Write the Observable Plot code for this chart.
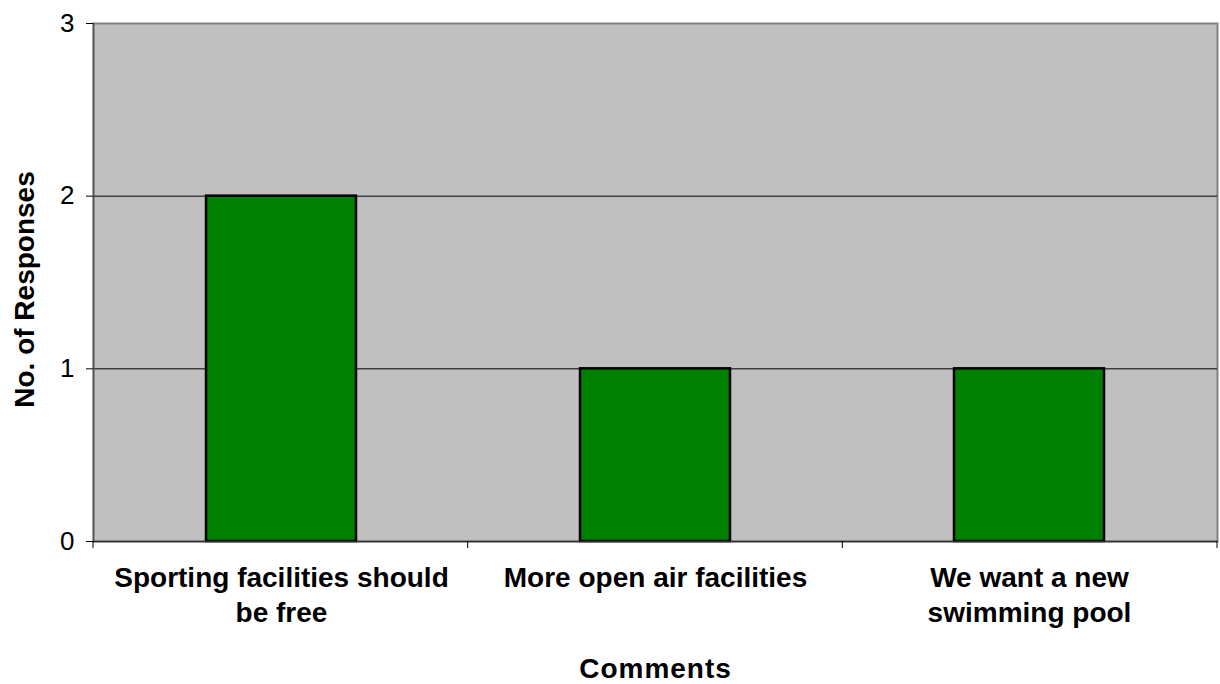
<!DOCTYPE html>
<html>
<head>
<meta charset="utf-8">
<script src="https://cdn.jsdelivr.net/npm/d3@7"></script>
<script src="https://cdn.jsdelivr.net/npm/@observablehq/plot@0.6"></script>
<style>
  html, body { margin: 0; padding: 0; background: #fff; }
  #chart { width: 1220px; height: 684px; }
</style>
</head>
<body>
<div id="chart"></div>
<script>
const categories = [
  "Sporting facilities should be free",
  "More open air facilities",
  "We want a new swimming pool"
];
const tickLabels = [
  "Sporting facilities should\nbe free",
  "More open air facilities",
  "We want a new\nswimming pool"
];
const responses = [2, 1, 1];
const yTicks = [0, 1, 2, 3];
const gridValues = [1, 2];
const xTitle = "Comments";
const yTitle = "No. of Responses";

const data = categories.map((c, i) => ({category: c, value: responses[i]}));
const labelOf = new Map(categories.map((c, i) => [c, tickLabels[i]]));

function boundaryTicks(index, scales, values, dimensions) {
  const {width, height, marginLeft, marginRight, marginBottom} = dimensions;
  const n = categories.length;
  const step = (width - marginLeft - marginRight) / n;
  const y0 = height - marginBottom;
  const g = d3.create("svg:g").attr("stroke", "#000").attr("stroke-width", 1);
  for (let i = 0; i <= n; i++) {
    const x = marginLeft + i * step;
    g.append("line").attr("x1", x).attr("x2", x).attr("y1", y0).attr("y2", y0 + 7);
  }
  return g.node();
}

const chart = Plot.plot({
  width: 1220,
  height: 684,
  marginTop: 23,
  marginBottom: 143,
  marginLeft: 93,
  marginRight: 3,
  style: {fontFamily: "'Liberation Sans', Arial, sans-serif", background: "#fff", color: "#000"},
  x: {domain: categories, paddingInner: 0.6, paddingOuter: 0.3, axis: null},
  y: {domain: [0, 3], axis: null},
  marks: [
    Plot.frame({fill: "#C0C0C0", stroke: "#808080", strokeWidth: 2}),
    Plot.ruleY(gridValues, {stroke: "#000", strokeWidth: 1}),
    Plot.frame({anchor: "left", stroke: "#505050", strokeWidth: 1.5}),
    Plot.barY(data, {x: "category", y: "value", fill: "#008000", stroke: "#000", strokeWidth: 2.5}),
    Plot.ruleY([0], {stroke: "#303030", strokeWidth: 1.5}),
    Plot.axisY({ticks: yTicks, tickSize: 7, tickPadding: 12, fontSize: 26, tickFormat: d => String(d), stroke: "#000", label: null}),
    boundaryTicks,
    Plot.axisX({
      tickSize: 0,
      tickPadding: 21,
      fontSize: 28,
      fontWeight: "bold",
      lineHeight: 1.25,
      tickFormat: d => labelOf.get(d),
      label: null
    }),
    Plot.text([xTitle], {frameAnchor: "bottom", lineAnchor: "bottom", dy: 136, fontSize: 28, fontWeight: "bold", className: "spaced"}),
    Plot.text([yTitle], {frameAnchor: "left", textAnchor: "middle", rotate: -90, dx: -68, dy: 7, fontSize: 28, fontWeight: "bold"})
  ]
});

d3.select(chart).selectAll(".spaced text").style("letter-spacing", "1px");
document.getElementById("chart").append(chart);
</script>
</body>
</html>
